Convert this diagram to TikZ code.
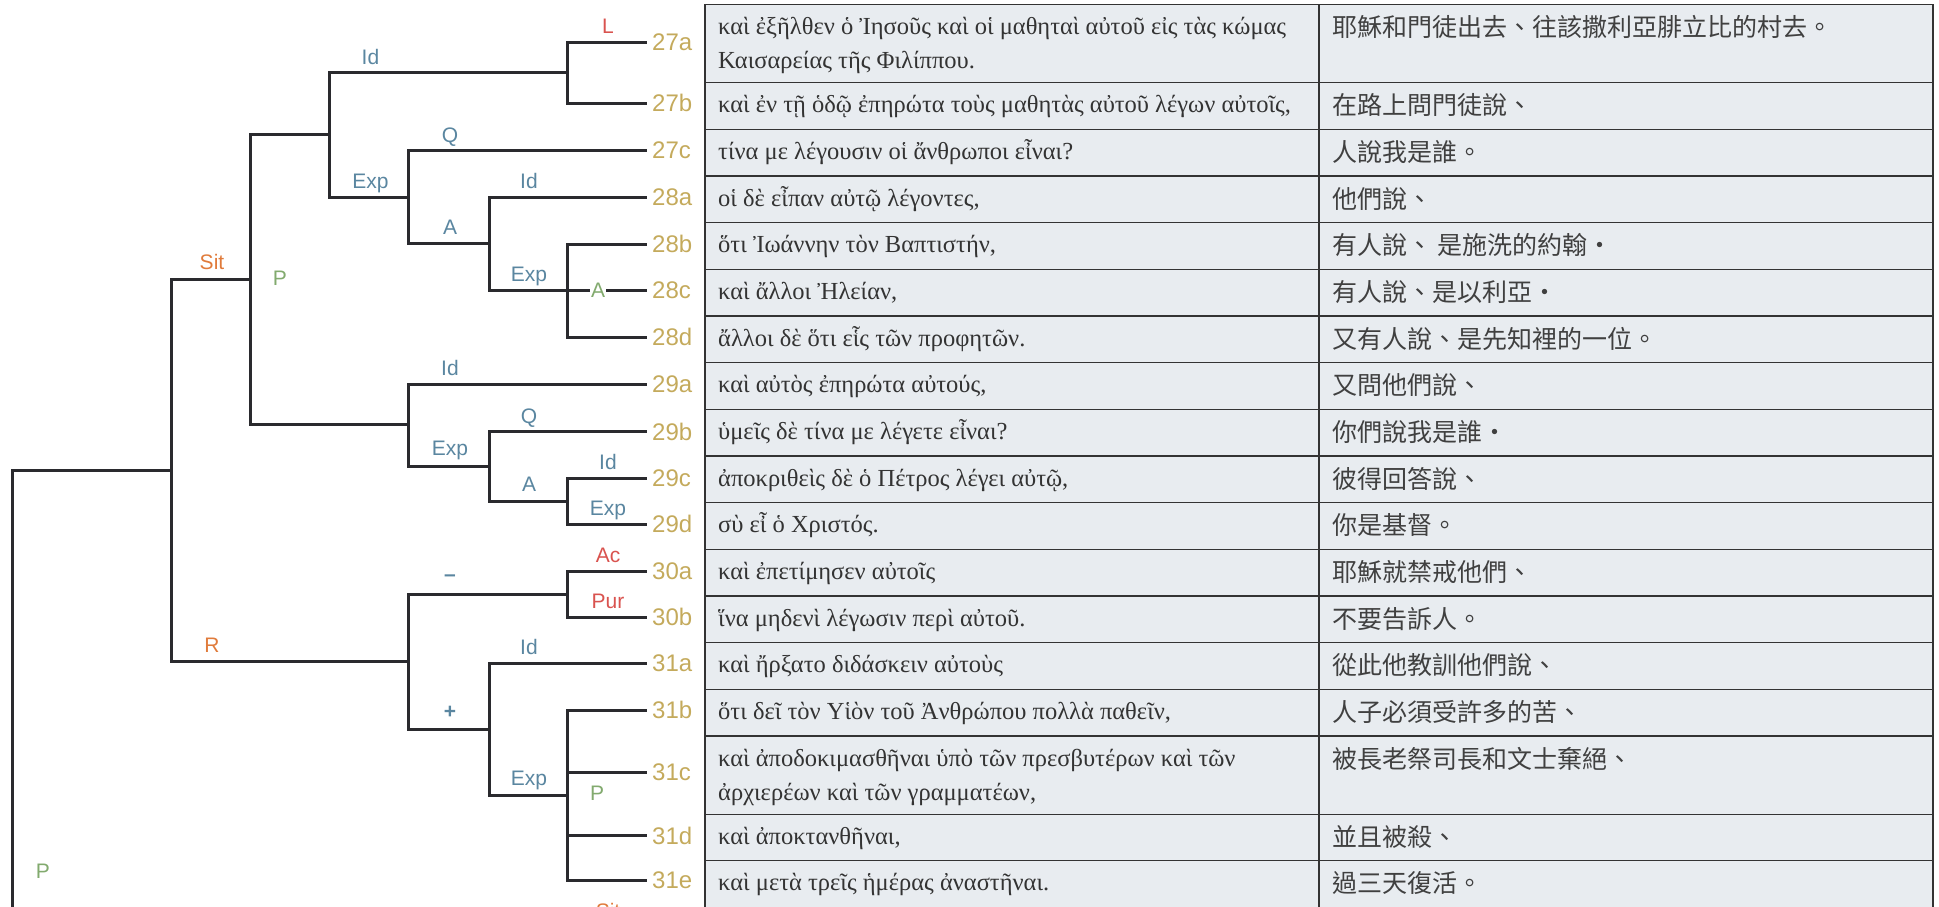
\documentclass[tikz,border=0pt]{standalone}
\usepackage{fontspec}
\setmainfont{Liberation Serif}
\newfontfamily\labfont{Liberation Sans}
\newfontfamily\cjk{Noto Sans CJK TC}
\newfontfamily\grk{Liberation Serif}
\definecolor{treeline}{HTML}{2A2A2E}
\definecolor{tabline}{HTML}{333333}
\definecolor{tabfill}{HTML}{E8ECF0}
\definecolor{cgold}{HTML}{C4AA5C}
\definecolor{cblue}{HTML}{5A86A0}
\definecolor{corange}{HTML}{E07B3B}
\definecolor{cred}{HTML}{D9534F}
\definecolor{cgreen}{HTML}{82AA6E}
\tikzset{
  tree/.style={draw=treeline, line width=3pt},
  tabrule/.style={draw=tabline, line width=1.6pt},
  leaf/.style={anchor=west, inner sep=0pt, text=cgold, font=\labfont\fontsize{24}{24}\selectfont},
  rel/.style={anchor=base, inner sep=0pt, font=\labfont\fontsize{21}{21}\selectfont},
  sgn/.style={anchor=center, inner sep=0pt, text=cblue, font=\labfont\bfseries\fontsize{21}{21}\selectfont},
  multi/.style={anchor=center, inner sep=0pt, text=cgreen, font=\labfont\fontsize{21}{21}\selectfont},
  gtxt/.style={anchor=base west, inner sep=0pt, font=\grk\fontsize{24.5}{34}\selectfont, text=black!80},
  ctxt/.style={anchor=base west, inner sep=0pt, font=\cjk\fontsize{25}{34}\selectfont, text=black!75},
}
\begin{document}
\begin{tikzpicture}[x=1pt,y=-1pt]
\useasboundingbox (0,0) rectangle (1939,906);
\begin{scope}
\clip (0,0) rectangle (1939,906);
% ---------- table ----------
\fill[tabfill] (705,4.3) rectangle (1933,920);
\foreach \yy in {4.3,82.3,129.3,176,222.3,269.3,316,362.3,409.3,456,502.3,549.3,596,642.3,689.3,736,814.3,860.3}
  \draw[tabrule] (705,\yy) -- (1933,\yy);
\draw[tabrule] (705,4.3) -- (705,920);
\draw[tabrule] (1319,4.3) -- (1319,920);
\draw[tabrule] (1933,4.3) -- (1933,920);
% Greek column
\node[gtxt] (g27a) at (718,34.3) {καὶ ἐξῆλθεν ὁ Ἰησοῦς καὶ οἱ μαθηταὶ αὐτοῦ εἰς τὰς κώμας};
\node[gtxt] (g27a2) at (718,68.5) {Καισαρείας τῆς Φιλίππου.};
\node[gtxt] (g27b) at (718,112.3) {καὶ ἐν τῇ ὁδῷ ἐπηρώτα τοὺς μαθητὰς αὐτοῦ λέγων αὐτοῖς,};
\node[gtxt] (g27c) at (718,159.3) {τίνα με λέγουσιν οἱ ἄνθρωποι εἶναι?};
\node[gtxt] (g28a) at (718,206) {οἱ δὲ εἶπαν αὐτῷ λέγοντες,};
\node[gtxt] (g28b) at (718,252.3) {ὅτι Ἰωάννην τὸν Βαπτιστήν,};
\node[gtxt] (g28c) at (718,299.3) {καὶ ἄλλοι Ἠλείαν,};
\node[gtxt] (g28d) at (718,346) {ἄλλοι δὲ ὅτι εἷς τῶν προφητῶν.};
\node[gtxt] (g29a) at (718,392.3) {καὶ αὐτὸς ἐπηρώτα αὐτούς,};
\node[gtxt] (g29b) at (718,439.3) {ὑμεῖς δὲ τίνα με λέγετε εἶναι?};
\node[gtxt] (g29c) at (718,486) {ἀποκριθεὶς δὲ ὁ Πέτρος λέγει αὐτῷ,};
\node[gtxt] (g29d) at (718,532.3) {σὺ εἶ ὁ Χριστός.};
\node[gtxt] (g30a) at (718,579.3) {καὶ ἐπετίμησεν αὐτοῖς};
\node[gtxt] (g30b) at (718,626) {ἵνα μηδενὶ λέγωσιν περὶ αὐτοῦ.};
\node[gtxt] (g31a) at (718,672.3) {καὶ ἤρξατο διδάσκειν αὐτοὺς};
\node[gtxt] (g31b) at (718,719.3) {ὅτι δεῖ τὸν Υἱὸν τοῦ Ἀνθρώπου πολλὰ παθεῖν,};
\node[gtxt] (g31c) at (718,766) {καὶ ἀποδοκιμασθῆναι ὑπὸ τῶν πρεσβυτέρων καὶ τῶν};
\node[gtxt] (g31c2) at (718,800.3) {ἀρχιερέων καὶ τῶν γραμματέων,};
\node[gtxt] (g31d) at (718,844.3) {καὶ ἀποκτανθῆναι,};
\node[gtxt] (g31e) at (718,890.3) {καὶ μετὰ τρεῖς ἡμέρας ἀναστῆναι.};
% Chinese column
\node[ctxt] (c27a) at (1332,36.3) {耶穌和門徒出去、往該撒利亞腓立比的村去。};
\node[ctxt] (c27b) at (1332,114.3) {在路上問門徒說、};
\node[ctxt] (c27c) at (1332,161.3) {人說我是誰。};
\node[ctxt] (c28a) at (1332,208) {他們說、};
\node[ctxt] (c28b) at (1332,254.3) {有人說、 是施洗的約翰·};
\node[ctxt] (c28c) at (1332,301.3) {有人說、是以利亞·};
\node[ctxt] (c28d) at (1332,348) {又有人說、是先知裡的一位。};
\node[ctxt] (c29a) at (1332,394.3) {又問他們說、};
\node[ctxt] (c29b) at (1332,441.3) {你們說我是誰·};
\node[ctxt] (c29c) at (1332,488) {彼得回答說、};
\node[ctxt] (c29d) at (1332,534.3) {你是基督。};
\node[ctxt] (c30a) at (1332,581.3) {耶穌就禁戒他們、};
\node[ctxt] (c30b) at (1332,628) {不要告訴人。};
\node[ctxt] (c31a) at (1332,674.3) {從此他教訓他們說、};
\node[ctxt] (c31b) at (1332,721.3) {人子必須受許多的苦、};
\node[ctxt] (c31c) at (1332,768) {被長老祭司長和文士棄絕、};
\node[ctxt] (c31d) at (1332,846.3) {並且被殺、};
\node[ctxt] (c31e) at (1332,892.3) {過三天復活。};
% ---------- tree ----------
% leaf ends
\foreach \nm/\yy in {27a/42.3,27b/103.3,27c/150.7,28a/197.3,28b/244.3,28c/290,28d/337.3,29a/384.3,29b/431.7,29c/478.3,29d/524.3,30a/571,30b/617.3,31a/663.3,31b/710,31c/772.3,31d/835.7,31e/880}{
  \coordinate (l\nm) at (647,\yy);
  \node[leaf] (t\nm) at (652,\yy) {\nm};
}
% internal nodes (x = level, y = middle of first and last child)
\coordinate (n6a) at (567,72.8);
\coordinate (n5a) at (489,243.65);
\coordinate (n6b) at (567,290.8);
\coordinate (n4a) at (408,197);
\coordinate (n3a) at (329.5,134.9);
\coordinate (n6c) at (567,501.3);
\coordinate (n5b) at (489,466);
\coordinate (n4b) at (408,424.3);
\coordinate (n2) at (250,279.6);
\coordinate (n6d) at (567,594.15);
\coordinate (n6e) at (567,795);
\coordinate (n5c) at (489,729.15);
\coordinate (n4c) at (408,661.6);
\coordinate (n1) at (171,470.6);
\coordinate (n0) at (12,940);
% connectors
\draw[tree] (n6a) |- (l27a);
\draw[tree] (n6a) |- (l27b);
\draw[tree] (n3a) |- (n6a);
\draw[tree] (n3a) |- (n4a);
\draw[tree] (n4a) |- (l27c);
\draw[tree] (n4a) |- (n5a);
\draw[tree] (n5a) |- (l28a);
\draw[tree] (n5a) |- (n6b);
\draw[tree] (n6b) |- (l28b);
\draw[tree] (n6b) |- (l28c);
\draw[tree] (n6b) |- (l28d);
\draw[tree] (n2) |- (n3a);
\draw[tree] (n2) |- (n4b);
\draw[tree] (n4b) |- (l29a);
\draw[tree] (n4b) |- (n5b);
\draw[tree] (n5b) |- (l29b);
\draw[tree] (n5b) |- (n6c);
\draw[tree] (n6c) |- (l29c);
\draw[tree] (n6c) |- (l29d);
\draw[tree] (n1) |- (n2);
\draw[tree] (n1) |- (n4c);
\draw[tree] (n4c) |- (n6d);
\draw[tree] (n4c) |- (n5c);
\draw[tree] (n6d) |- (l30a);
\draw[tree] (n6d) |- (l30b);
\draw[tree] (n5c) |- (l31a);
\draw[tree] (n5c) |- (n6e);
\draw[tree] (n6e) |- (l31b);
\draw[tree] (n6e) |- (l31c);
\draw[tree] (n6e) |- (l31d);
\draw[tree] (n6e) |- (l31e);
\draw[tree] (n0) |- (n1);
% relation labels
\node[rel, text=cred] (rL) at (608,33.8) {L};
\node[rel, text=cblue] (rId1) at (370.5,64.3) {Id};
\node[rel, text=cblue] (rExp1) at (370.5,188) {Exp};
\node[rel, text=cblue] (rQ1) at (450,142.2) {Q};
\node[rel, text=cblue] (rA1) at (450,234.8) {A};
\node[rel, text=cblue] (rId2) at (529,188.8) {Id};
\node[rel, text=cblue] (rExp2) at (529,281.5) {Exp};
\node[rel, text=corange] (rSit) at (212,269.2) {Sit};
\node[rel, text=cblue] (rId3) at (450,375.8) {Id};
\node[rel, text=cblue] (rExp3) at (450,455.8) {Exp};
\node[rel, text=cblue] (rQ2) at (529,423.2) {Q};
\node[rel, text=cblue] (rA2) at (529,491.8) {A};
\node[rel, text=cblue] (rId4) at (608,469.8) {Id};
\node[rel, text=cblue] (rExp4) at (608,515.8) {Exp};
\node[rel, text=cred] (rAc) at (608,562.5) {Ac};
\node[rel, text=cred] (rPur) at (608,608.8) {Pur};
\node[rel, text=corange] (rR) at (212,652.5) {R};
\node[rel, text=cblue] (rId5) at (529,654.8) {Id};
\node[rel, text=cblue] (rExp5) at (529,785.2) {Exp};
\node[rel, text=corange] (rSit2) at (608,918) {Sit};
\node[sgn] (sMinus) at (450,577.7) {–};
\node[sgn] (sPlus) at (450,712.5) {+};
% multinuclear labels
\node[multi] (mP1) at (280,278) {P};
\node[multi, fill=white, inner xsep=1pt] (mA) at (598,290) {A};
\node[multi] (mP2) at (597,793.3) {P};
\node[multi] (mP0) at (43,871.7) {P};
\end{scope}
\end{tikzpicture}
\end{document}
